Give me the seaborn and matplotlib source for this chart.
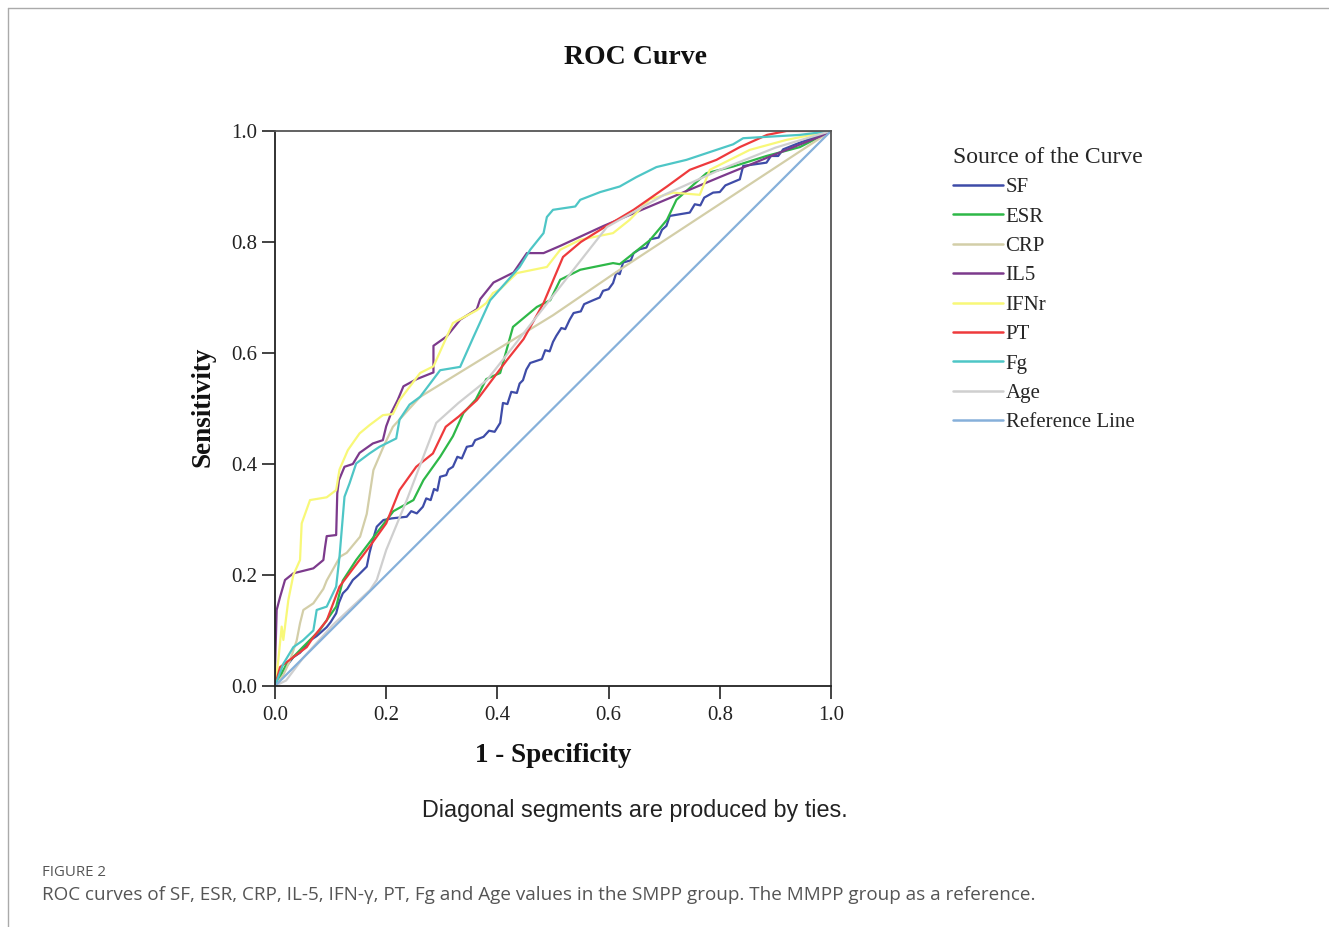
import numpy as np
import pandas as pd
import matplotlib
matplotlib.use("Agg")
import matplotlib.pyplot as plt
import seaborn as sns
from matplotlib.lines import Line2D

# ---------------- data ----------------
curve_names = ["SF", "ESR", "CRP", "IL5", "IFNr", "PT", "Fg", "Age", "Reference Line"]

sf_fpr = [0, 0.01, 0.02, 0.033, 0.045, 0.063, 0.075, 0.093, 0.10, 0.11, 0.115, 0.122, 0.13, 0.14,
          0.15, 0.165, 0.17, 0.176, 0.183, 0.195, 0.21, 0.237,
          0.245, 0.255, 0.266, 0.272, 0.28, 0.286, 0.292, 0.297, 0.308, 0.312, 0.32,
          0.328, 0.336, 0.345, 0.355, 0.36, 0.375, 0.385, 0.395, 0.405, 0.41,
          0.418, 0.425, 0.435, 0.44, 0.446, 0.452, 0.459, 0.48,
          0.486, 0.494, 0.5, 0.506, 0.515, 0.522, 0.53, 0.537, 0.55, 0.556, 0.572,
          0.584, 0.59, 0.6, 0.608, 0.614, 0.62, 0.626, 0.64, 0.645, 0.656,
          0.668, 0.675, 0.69, 0.696, 0.704, 0.71, 0.746,
          0.755, 0.765, 0.772, 0.788, 0.8, 0.81, 0.836, 0.842, 0.884,
          0.892, 0.905, 0.914, 0.944, 1.0]
sf_tpr = [0, 0.02, 0.035, 0.052, 0.06, 0.082, 0.09, 0.106, 0.115, 0.131, 0.15, 0.167, 0.175, 0.191,
          0.2, 0.215, 0.24, 0.263, 0.287, 0.299, 0.302, 0.305,
          0.315, 0.311, 0.323, 0.338, 0.335, 0.355, 0.352, 0.377, 0.38, 0.39, 0.395,
          0.413, 0.41, 0.431, 0.433, 0.443, 0.449, 0.46, 0.458, 0.474, 0.51,
          0.508, 0.53, 0.528, 0.545, 0.551, 0.57, 0.582, 0.589,
          0.605, 0.603, 0.62, 0.631, 0.645, 0.643, 0.66, 0.672, 0.675, 0.688, 0.695,
          0.7, 0.712, 0.715, 0.726, 0.745, 0.742, 0.763, 0.767, 0.78, 0.787,
          0.79, 0.805, 0.808, 0.822, 0.829, 0.847, 0.853,
          0.868, 0.866, 0.88, 0.889, 0.89, 0.902, 0.913, 0.937, 0.943,
          0.955, 0.955, 0.967, 0.979, 1.0]

esr_fpr = [0, 0.021, 0.05, 0.08, 0.11, 0.122, 0.146, 0.177, 0.213, 0.249, 0.267, 0.297, 0.32,
           0.339, 0.361, 0.38, 0.405, 0.428, 0.471, 0.495, 0.513, 0.549, 0.608, 0.62, 0.674,
           0.705, 0.722, 0.776, 0.824, 0.884, 0.944, 1.0]
esr_tpr = [0, 0.04, 0.07, 0.1, 0.143, 0.19, 0.227, 0.268, 0.315, 0.335, 0.371, 0.413, 0.45,
           0.492, 0.516, 0.553, 0.564, 0.647, 0.683, 0.695, 0.732, 0.75, 0.762, 0.76, 0.803,
           0.84, 0.876, 0.924, 0.936, 0.955, 0.971, 1.0]

crp_fpr = [0, 0.015, 0.027, 0.039, 0.045, 0.051, 0.069, 0.087, 0.093, 0.117, 0.129, 0.153,
           0.165, 0.177, 0.195, 0.212, 0.261, 0.3, 0.5, 0.62, 1.0]
crp_tpr = [0, 0.02, 0.046, 0.082, 0.113, 0.137, 0.149, 0.175, 0.19, 0.233, 0.24, 0.269,
           0.31, 0.389, 0.431, 0.467, 0.521, 0.545, 0.668, 0.75, 1.0]

il5_fpr = [0, 0.0, 0.003, 0.009, 0.018, 0.033, 0.069, 0.087, 0.09, 0.093, 0.11, 0.112, 0.115,
           0.125, 0.14, 0.152, 0.176, 0.194, 0.2, 0.209, 0.221, 0.231, 0.255, 0.285, 0.285,
           0.309, 0.333, 0.363, 0.369, 0.393, 0.429, 0.453, 0.483, 0.513, 0.591, 0.7, 0.8,
           0.9, 0.98, 1.0]
il5_tpr = [0, 0.03, 0.137, 0.16, 0.191, 0.203, 0.212, 0.227, 0.25, 0.27, 0.272, 0.347, 0.371,
           0.395, 0.4, 0.42, 0.437, 0.443, 0.468, 0.492, 0.516, 0.54, 0.553, 0.565, 0.613,
           0.63, 0.66, 0.679, 0.697, 0.727, 0.745, 0.78, 0.78, 0.793, 0.829, 0.875, 0.917,
           0.958, 0.99, 1.0]

ifn_fpr = [0, 0.006, 0.012, 0.015, 0.024, 0.033, 0.045, 0.048, 0.063, 0.093, 0.11, 0.116,
           0.131, 0.152, 0.17, 0.194, 0.212, 0.224, 0.261, 0.285, 0.32, 0.363, 0.38, 0.392,
           0.405, 0.435, 0.489, 0.513, 0.549, 0.608, 0.638, 0.674, 0.716, 0.764, 0.782, 0.854,
           0.92, 1.0]
ifn_tpr = [0, 0.047, 0.107, 0.083, 0.155, 0.2, 0.227, 0.293, 0.335, 0.34, 0.353, 0.39,
           0.425, 0.455, 0.47, 0.488, 0.49, 0.515, 0.564, 0.576, 0.654, 0.677, 0.69, 0.708,
           0.715, 0.744, 0.755, 0.786, 0.804, 0.816, 0.84, 0.877, 0.889, 0.885, 0.93, 0.966,
           0.984, 1.0]

pt_fpr = [0, 0.009, 0.033, 0.057, 0.069, 0.093, 0.116, 0.134, 0.17, 0.2, 0.224, 0.254, 0.284,
          0.307, 0.331, 0.363, 0.417, 0.447, 0.483, 0.518, 0.55, 0.59, 0.645, 0.705, 0.746,
          0.794, 0.836, 0.885, 0.92, 1.0]
pt_tpr = [0, 0.034, 0.052, 0.07, 0.088, 0.118, 0.179, 0.203, 0.251, 0.293, 0.353, 0.395, 0.419,
          0.467, 0.486, 0.515, 0.587, 0.625, 0.69, 0.773, 0.8, 0.825, 0.858, 0.9, 0.93,
          0.948, 0.971, 0.993, 1.0, 1.0]

fg_fpr = [0, 0.015, 0.033, 0.05, 0.069, 0.075, 0.093, 0.11, 0.116, 0.125, 0.134, 0.146, 0.17,
          0.188, 0.218, 0.224, 0.242, 0.261, 0.297, 0.333, 0.357, 0.387, 0.44, 0.459, 0.483,
          0.489, 0.5, 0.54, 0.549, 0.585, 0.62, 0.65, 0.686, 0.74, 0.794, 0.824, 0.842, 0.944,
          1.0]
fg_tpr = [0, 0.04, 0.07, 0.082, 0.1, 0.137, 0.143, 0.179, 0.233, 0.341, 0.365, 0.401, 0.419,
          0.431, 0.446, 0.48, 0.507, 0.521, 0.569, 0.575, 0.629, 0.695, 0.755, 0.786, 0.816,
          0.845, 0.858, 0.864, 0.876, 0.89, 0.9, 0.917, 0.935, 0.948, 0.966, 0.976, 0.987,
          0.993, 1.0]

age_fpr = [0, 0.02, 0.05, 0.104, 0.171, 0.183, 0.2, 0.237, 0.29, 0.33, 0.381, 0.597, 0.7, 0.8,
           0.9, 1.0]
age_tpr = [0, 0.01, 0.05, 0.11, 0.173, 0.191, 0.245, 0.335, 0.474, 0.51, 0.551, 0.827, 0.885,
           0.93, 0.97, 1.0]

ref_fpr = [0, 1]
ref_tpr = [0, 1]

curve_colors = ["#3E4CA8", "#2EB848", "#D3CEA8", "#7C3A8C", "#F8F878",
                "#EE3A3C", "#4EC6C6", "#CFCFCF", "#86B0DA"]

all_fpr = [sf_fpr, esr_fpr, crp_fpr, il5_fpr, ifn_fpr, pt_fpr, fg_fpr, age_fpr, ref_fpr]
all_tpr = [sf_tpr, esr_tpr, crp_tpr, il5_tpr, ifn_tpr, pt_tpr, fg_tpr, age_tpr, ref_tpr]

rows = []
for name, xs, ys in zip(curve_names, all_fpr, all_tpr):
    for i, (a, b) in enumerate(zip(xs, ys)):
        rows.append((name, i, a, b))
df = pd.DataFrame(rows, columns=["curve", "order", "fpr", "tpr"])

# ---------------- styling ----------------
sns.set_style("ticks")
plt.rcParams["font.family"] = ["Liberation Serif", "DejaVu Serif"]

W, H = 1329, 927
fig = plt.figure(figsize=(W / 100, H / 100), dpi=100)
ax = fig.add_axes([275 / W, 1 - 686 / H, 556 / W, 555 / H])

sns.lineplot(data=df, x="fpr", y="tpr", hue="curve", hue_order=curve_names,
             palette=dict(zip(curve_names, curve_colors)), estimator=None, sort=False,
             linewidth=1.6, ax=ax, legend=True)

ax.set_xlim(0, 1)
ax.set_ylim(0, 1)
ticks = [0.0, 0.2, 0.4, 0.6, 0.8, 1.0]
ax.set_xticks(ticks)
ax.set_yticks(ticks)
ax.set_xticklabels([f"{t:.1f}" for t in ticks])
ax.set_yticklabels([f"{t:.1f}" for t in ticks])
ax.tick_params(axis="both", direction="out", length=9.5, width=1.2, color="#222222",
               labelsize=15, labelcolor="#222222")
ax.tick_params(axis="x", pad=5)
ax.tick_params(axis="y", pad=3)
for side in ["left", "bottom"]:
    ax.spines[side].set_color("#222222")
    ax.spines[side].set_linewidth(1.3)
for side in ["top", "right"]:
    ax.spines[side].set_visible(True)
    ax.spines[side].set_color("#555555")
    ax.spines[side].set_linewidth(1.3)

ax.set_xlabel("1 - Specificity", fontsize=19.5, fontweight="bold", color="#111111")
ax.set_ylabel("Sensitivity", fontsize=19.5, fontweight="bold", color="#111111")
ax.xaxis.set_label_coords(0.5, (686 - 755) / 555)
ax.xaxis.label.set_va("center")
ax.yaxis.set_label_coords((203 - 275) / 556, (686 - 407) / 555)
ax.yaxis.label.set_va("center")

fig.text(636 / W, 1 - 58 / H, "ROC Curve", ha="center", va="center",
         fontsize=20, fontweight="bold", color="#111111")

handles, labels = ax.get_legend_handles_labels()
ax.get_legend().remove()
for h in handles:
    h.set_linewidth(1.8)
leg = fig.legend(handles, labels, title="Source of the Curve", loc="upper left",
                 bbox_to_anchor=(953 / W, 1 - 147 / H), frameon=False, fontsize=15,
                 title_fontsize=17, handlelength=2.4, handletextpad=0.12,
                 labelspacing=0.47, borderpad=0, borderaxespad=0, alignment="left")

fig.text(635 / W, 1 - 810 / H, "Diagonal segments are produced by ties.", ha="center",
         va="center", fontsize=16.8, family=["Liberation Sans", "DejaVu Sans"], color="#222222")

fig.text(42 / W, 1 - 872 / H, "FIGURE 2", ha="left", va="center", fontsize=10.8,
         family=["Open Sans", "DejaVu Sans"], color="#555555")
fig.text(42 / W, 1 - 895 / H,
         "ROC curves of SF, ESR, CRP, IL-5, IFN-\u03b3, PT, Fg and Age values in the SMPP group. "
         "The MMPP group as a reference.",
         ha="left", va="center", fontsize=13.6, family=["Open Sans", "DejaVu Sans"],
         color="#555555")

# thin panel border (top and left)
fig.add_artist(Line2D([8 / W, 1.0], [1 - 8 / H, 1 - 8 / H], transform=fig.transFigure,
                      color="#aaaaaa", linewidth=1))
fig.add_artist(Line2D([8 / W, 8 / W], [1 - 8 / H, 0], transform=fig.transFigure,
                      color="#aaaaaa", linewidth=1))

fig.savefig("out.png", dpi=100)
